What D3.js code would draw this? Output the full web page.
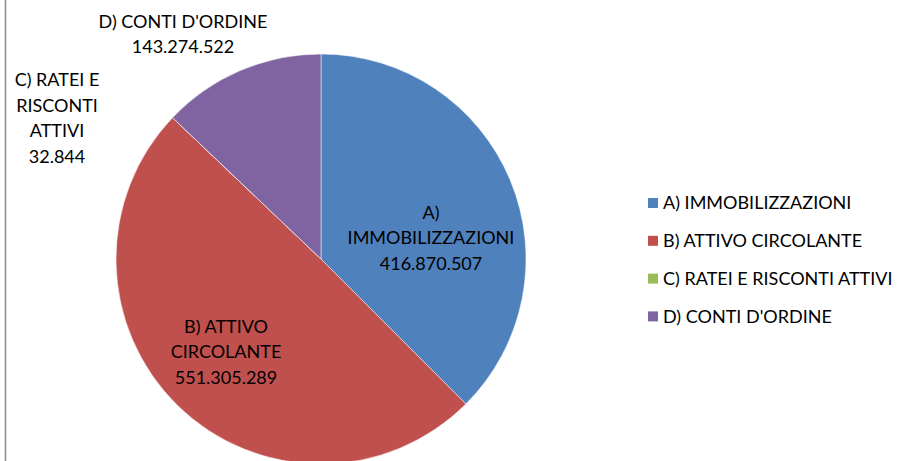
<!DOCTYPE html>
<html>
<head>
<meta charset="utf-8">
<script src="https://cdn.jsdelivr.net/npm/d3@7"></script>
<style>
  body { margin: 0; background: #fff; }
  svg { display: block; font-family: "Lato", "Liberation Sans", sans-serif; }
</style>
</head>
<body>
<svg id="chart"></svg>
<script>

var categories = ["A) IMMOBILIZZAZIONI", "B) ATTIVO CIRCOLANTE", "C) RATEI E RISCONTI ATTIVI", "D) CONTI D'ORDINE"];
var values = [416870507, 551305289, 32844, 143274522];
var colors = ["#4f81bd", "#c0504d", "#9bbb59", "#8064a2"];
// how each data label is wrapped
var labelLines = [["A)", "IMMOBILIZZAZIONI"], ["B) ATTIVO", "CIRCOLANTE"], ["C) RATEI E", "RISCONTI", "ATTIVI"], ["D) CONTI D'ORDINE"]];

var width = 901;
var height = 461;
var cx = 321, cy = 259, radius = 205;
var lineH = 25.5;
// label block centres (layout only)
var labelPos = [[431, 238], [226, 352], [57, 118], [183, 34]];

var it = d3.formatLocale({decimal: ",", thousands: ".", grouping: [3], currency: ["", ""]});
var fmt = it.format(",d");

var data = categories.map(function(c, i) {
  return {name: c, value: values[i], color: colors[i], lines: labelLines[i].concat([fmt(values[i])]), pos: labelPos[i]};
});

var svg = d3.select("#chart")
            .attr("width", width)
            .attr("height", height);

// left frame edge
svg.append("line")
   .attr("x1", 5.5).attr("x2", 5.5)
   .attr("y1", 0).attr("y2", 461)
   .attr("stroke", "#8c8c8c")
   .attr("stroke-width", 1.5);

var pie = d3.pie()
  .sort(null)
  .value(function(d) { return d.value; });

var arc = d3.arc()
  .innerRadius(0)
  .outerRadius(radius);

var g = svg.append("g")
  .attr("transform", "translate(" + cx + "," + cy + ")");

g.selectAll("path")
 .data(pie(data))
 .enter()
 .append("path")
 .attr("d", arc)
 .attr("fill", function(d) { return d.data.color; })
 .attr("stroke", "#ffffff")
 .attr("stroke-width", 0.5);

// data labels
var labels = svg.selectAll("text.lbl")
  .data(data)
  .enter()
  .append("text")
  .attr("class", "lbl")
  .attr("text-anchor", "middle")
  .attr("font-size", "18px")
  .attr("fill", "#000");

labels.each(function(d) {
  var t = d3.select(this);
  var n = d.lines.length;
  d.lines.forEach(function(line, j) {
    t.append("tspan")
     .attr("x", d.pos[0])
     .attr("y", d.pos[1] + (j - (n - 1) / 2) * lineH)
     .attr("dy", "0.35em")
     .text(line);
  });
});

// legend
var legend = svg.selectAll("g.leg")
  .data(data)
  .enter()
  .append("g")
  .attr("class", "leg")
  .attr("transform", function(d, i) { return "translate(648," + (203 + i * 37.8) + ")"; });

legend.append("rect")
  .attr("x", 0)
  .attr("y", -5)
  .attr("width", 10)
  .attr("height", 10)
  .attr("fill", function(d) { return d.color; });

legend.append("text")
  .attr("x", 15)
  .attr("y", 0)
  .attr("dy", "0.35em")
  .attr("font-size", "18px")
  .attr("fill", "#000")
  .text(function(d) { return d.name; });

</script>
</body>
</html>
